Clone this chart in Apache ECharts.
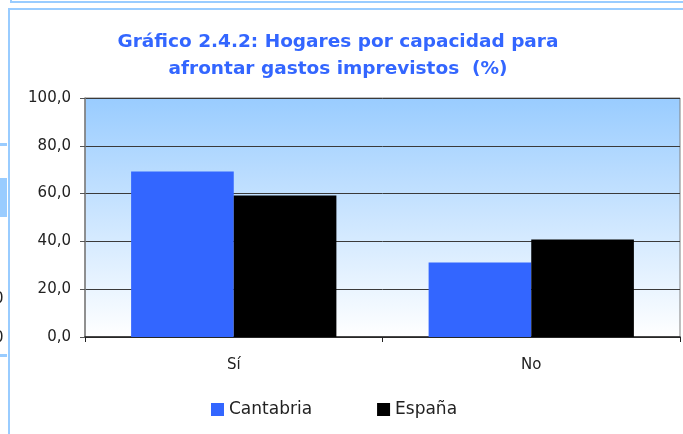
<!DOCTYPE html>
<html>
<head>
<meta charset="utf-8">
<script src="https://cdn.jsdelivr.net/npm/echarts@6/dist/echarts.min.js"></script>
<style>
  html, body { margin: 0; padding: 0; background: #fff; }
  #chart { width: 683px; height: 434px; }
</style>
</head>
<body>
<div id="chart"></div>
<script>
// categorías y valores (%)
const categories = ["Sí", "No"];
const cantabria = [69.2, 31.2];
const espana = [59.2, 40.8];
const yTicks = [0, 20, 40, 60, 80, 100];

const chart = echarts.init(document.getElementById("chart"));
const fontFamily = "'DejaVu Sans', sans-serif";
const frameBlue = "#99ccff";

const option = {
  animation: false,
  backgroundColor: "#fff",
  textStyle: { fontFamily: fontFamily },
  title: {
    text: "Gráfico 2.4.2: Hogares por capacidad para\nafrontar gastos imprevistos  (%)",
    left: 333,
    top: 24,
    textAlign: "center",
    textStyle: {
      color: "#3366ff",
      fontSize: 18.5,
      fontWeight: "bold",
      lineHeight: 27,
      fontFamily: fontFamily
    }
  },
  grid: {
    left: 85,
    right: 3,
    top: 98,
    bottom: 97,
    show: true,
    borderColor: "#808080",
    borderWidth: 1,
    backgroundColor: {
      type: "linear", x: 0, y: 0, x2: 0, y2: 1,
      colorStops: [
        { offset: 0, color: "#99ccff" },
        { offset: 1, color: "#ffffff" }
      ]
    }
  },
  legend: {
    bottom: 11,
    left: 206,
    itemGap: 65,
    itemWidth: 13,
    itemHeight: 13,
    icon: "rect",
    textStyle: { fontSize: 17, color: "#222", fontFamily: fontFamily }
  },
  xAxis: {
    type: "category",
    data: categories,
    axisLine: { lineStyle: { color: "#222", width: 1.5 } },
    axisTick: { show: true, length: 5, lineStyle: { color: "#222" } },
    axisLabel: { fontSize: 15, color: "#222", margin: 21 }
  },
  yAxis: {
    type: "value",
    min: yTicks[0],
    max: yTicks[yTicks.length - 1],
    interval: 20,
    axisLine: { show: true, lineStyle: { color: "#808080", width: 1.5 } },
    axisTick: { show: true, length: 5, lineStyle: { color: "#555" } },
    axisLabel: {
      fontSize: 15,
      color: "#222",
      margin: 14,
      formatter: v => v.toFixed(1).replace(".", ",")
    },
    splitLine: { lineStyle: { color: "#3a3a3a", width: 1 } }
  },
  series: [
    {
      name: "Cantabria",
      type: "bar",
      data: cantabria,
      barGap: "0%",
      barCategoryGap: "31%",
      itemStyle: { color: "#3366ff" }
    },
    {
      name: "España",
      type: "bar",
      data: espana,
      itemStyle: { color: "#000000" }
    }
  ],
  graphic: [
    // restos de los marcos del documento
    { type: "rect", shape: { x: 11, y: -4, width: 700, height: 6 }, style: { fill: "none", stroke: frameBlue, lineWidth: 2 } },
    { type: "rect", shape: { x: 9, y: 9, width: 700, height: 440 }, style: { fill: "none", stroke: frameBlue, lineWidth: 2 } },
    { type: "rect", shape: { x: 0, y: 143, width: 7, height: 3 }, style: { fill: frameBlue } },
    { type: "rect", shape: { x: 0, y: 178, width: 7, height: 39 }, style: { fill: frameBlue } },
    { type: "rect", shape: { x: 0, y: 354, width: 7, height: 3 }, style: { fill: frameBlue } },
    { type: "text", left: -6, top: 292, style: { text: "0", font: "15px 'DejaVu Sans'", fill: "#222" } },
    { type: "text", left: -6, top: 331, style: { text: "0", font: "15px 'DejaVu Sans'", fill: "#222" } }
  ]
};

chart.setOption(option);
</script>
</body>
</html>
